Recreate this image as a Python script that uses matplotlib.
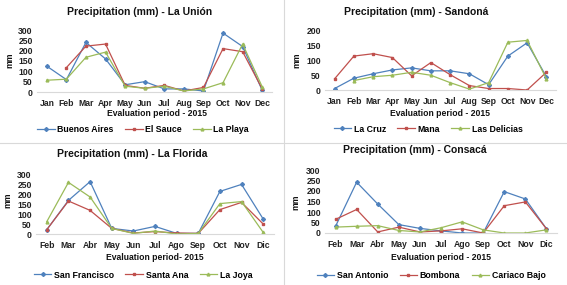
import matplotlib
matplotlib.use("Agg")
import matplotlib.pyplot as plt
import numpy as np
from matplotlib.lines import Line2D

plt.rcParams['font.family'] = ['Liberation Sans', 'DejaVu Sans']
plt.rcParams['font.weight'] = 'bold'

BLUE = '#4F81BD'
RED = '#C0504D'
GREEN = '#9BBB59'

months_full = ['Jan', 'Feb', 'Mar', 'Apr', 'May', 'Jun', 'Jul', 'Aug', 'Sep', 'Oct', 'Nov', 'Dec']
months_es = ['Feb', 'Mar', 'Abr', 'May', 'Jun', 'Jul', 'Ago', 'Sep', 'Oct', 'Nov', 'Dic']

# La Unión
union_names = ['Buenos Aires', 'El Sauce', 'La Playa']
buenos_aires = [125, 60, 240, 160, 35, 50, 15, 15, 5, 285, 220, 8]
el_sauce = [np.nan, 118, 222, 232, 32, 18, 32, 5, 22, 210, 195, 15]
la_playa = [57, 62, 168, 193, 28, 18, 28, 5, 15, 45, 232, 25]

# Sandoná
sandona_names = ['La Cruz', 'Mana', 'Las Delicias']
la_cruz = [5, 40, 55, 68, 75, 65, 65, 55, 18, 115, 160, 45]
mana = [38, 115, 123, 110, 48, 93, 52, 15, 5, 5, 0, 60]
las_delicias = [np.nan, 32, 45, 50, 60, 50, 25, 3, 25, 162, 168, 38]

# La Florida
florida_names = ['San Francisco', 'Santa Ana', 'La Joya']
san_francisco = [22, 168, 262, 28, 15, 38, 3, 3, 213, 248, 75]
santa_ana = [22, 165, 118, 28, 5, 12, 5, 3, 122, 158, 50]
la_joya = [62, 258, 185, 28, 3, 15, 0, 3, 152, 162, 8]

# Consacá
consaca_names = ['San Antonio', 'Bombona', 'Cariaco Bajo']
san_antonio = [32, 242, 138, 40, 22, 10, 0, 0, 197, 162, 20]
bombona = [65, 112, 5, 28, 5, 10, 20, 0, 130, 148, 20]
cariaco_bajo = [28, 32, 35, 12, 5, 25, 53, 15, 0, 0, 15]

W, H = 567, 285
fig = plt.figure(figsize=(W / 100, H / 100), dpi=100)
fig.patch.set_facecolor('white')

def px_axes(x0, x1, ytop, ybot):
    return fig.add_axes([x0 / W, 1 - ybot / H, (x1 - x0) / W, (ybot - ytop) / H])

def panel(rect, cats, series, names, ymax, title, title_xy, xlabel, xlabel_xy, ylabel_xy, leg_xy):
    ax = px_axes(*rect)
    x = np.arange(len(cats))
    colors = [BLUE, RED, GREEN]
    markers = ['D', 's', '^']
    for s, c, m, n in zip(series, colors, markers, names):
        ax.plot(x, s, color=c, marker=m, markersize=2.0, lw=0.9, label=n)
    ax.set_xlim(-0.5, len(cats) - 0.5)
    ax.set_ylim(0, ymax)
    ax.set_yticks(np.arange(0, ymax + 1, 50))
    ax.set_xticks(x)
    ax.set_xticklabels(cats)
    for sp in ['top', 'right', 'left']:
        ax.spines[sp].set_visible(False)
    ax.spines['bottom'].set_color('#D9D9D9')
    ax.spines['bottom'].set_linewidth(0.8)
    ax.tick_params(axis='both', length=0, labelsize=6.2, colors='#222222')
    ax.tick_params(axis='x', pad=5)
    ax.tick_params(axis='y', pad=3)
    for lab in ax.get_xticklabels() + ax.get_yticklabels():
        lab.set_fontweight('bold')
    ax.set_facecolor('none')
    fig.text(title_xy[0] / W, 1 - title_xy[1] / H, title, ha='center', va='center',
             fontsize=7.5, fontweight='bold', color='#111111')
    fig.text(xlabel_xy[0] / W, 1 - xlabel_xy[1] / H, xlabel, ha='center', va='center',
             fontsize=6.2, fontweight='bold', color='#111111')
    fig.text(ylabel_xy[0] / W, 1 - ylabel_xy[1] / H, 'mm', ha='center', va='center',
             rotation=90, fontsize=6.2, fontweight='bold', color='#111111')
    handles = [Line2D([0], [0], color=c, marker=m, markersize=2.0, lw=0.9)
               for c, m in zip(colors, markers)]
    fig.legend(handles, names, loc='center', bbox_to_anchor=(leg_xy[0] / W, 1 - leg_xy[1] / H),
               ncol=3, frameon=False, handlelength=2.0, handletextpad=0.3,
               columnspacing=1.3, prop={'weight': 'bold', 'size': 6.3})
    return ax

panel((37, 272, 30, 92), months_full, [buenos_aires, el_sauce, la_playa], union_names, 300,
      'Precipitation (mm) - La Unión', (140, 12), 'Evaluation period - 2015', (157, 113),
      (10, 60), (143, 130))
panel((325, 556, 31, 90), months_full, [la_cruz, mana, las_delicias], sandona_names, 200,
      'Precipitation (mm) - Sandoná', (416, 12), 'Evaluation period - 2015', (440, 113),
      (297, 60), (428, 129))
panel((36, 274, 174, 234), months_es, [san_francisco, santa_ana, la_joya], florida_names, 300,
      'Precipitation (mm) - La Florida', (132, 154), 'Evaluation period- 2015', (155, 257),
      (8, 200), (143, 275))
panel((325, 557, 170, 233), months_es, [san_antonio, bombona, cariaco_bajo], consaca_names, 300,
      'Precipitation (mm) - Consacá', (415, 150), 'Evaluation period - 2015', (441, 257),
      (296, 202), (431, 276))

# panel separators
fig.add_artist(Line2D([284 / W, 284 / W], [0, 1], color='#D9D9D9', lw=0.8))
fig.add_artist(Line2D([0, 1], [1 - 142.5 / H, 1 - 142.5 / H], color='#D9D9D9', lw=0.8))

fig.savefig('out.png', dpi=100)
